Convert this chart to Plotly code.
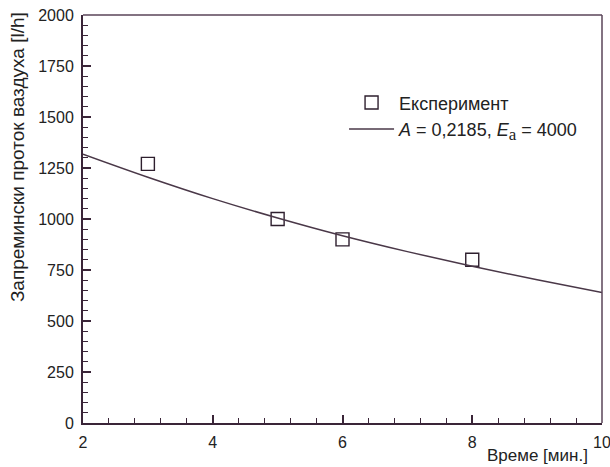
import plotly.graph_objects as go

# Experimental points
exp_time = [3, 5, 6, 8]
exp_flow = [1270, 1000, 900, 800]

# Model curve
model_time = [2, 3, 4, 5, 6, 7, 8, 9, 10]
model_flow = [1318, 1205, 1100, 1005, 918, 840, 768, 702, 640]

x_ticks = [2, 4, 6, 8, 10]
y_ticks = [0, 250, 500, 750, 1000, 1250, 1500, 1750, 2000]

FONT = "Liberation Sans, Arial, sans-serif"
AX = "#3a2538"
fs = 16

fig = go.Figure()
fig.add_trace(go.Scatter(
    x=exp_time, y=exp_flow, mode="markers", name="Експеримент",
    legendgroup="a",
    marker=dict(symbol="square-open", size=13, color="#2e1f2e", line=dict(width=1.4, color="#2e1f2e")),
))
fig.add_trace(go.Scatter(
    x=model_time, y=model_flow, mode="lines", line_shape="spline",
    name="<i>A</i> = 0,2185, <i>E</i><sub><span style=\"font-family:Liberation Serif, serif;font-size:17px\">a</span></sub> = 4000",
    legendgroup="b",
    line=dict(color="#4a3848", width=1.5),
))

fig.update_layout(
    width=610, height=467,
    margin=dict(l=83, r=8, t=15, b=44),
    paper_bgcolor="white", plot_bgcolor="white",
    font=dict(family=FONT, size=fs, color="#222"),
    showlegend=True,
    legend=dict(x=0.503, y=0.83, xanchor="left", yanchor="top",
                bgcolor="rgba(0,0,0,0)", font=dict(size=18),
                traceorder="grouped", tracegroupgap=0, itemwidth=45),
    xaxis=dict(range=[2, 10], tickvals=x_ticks, ticks="inside", ticklen=8, tickwidth=1.5,
               tickcolor=AX, showline=True, linecolor=AX, linewidth=2, showgrid=False,
               zeroline=False, minor=dict(dtick=0.4, ticks="inside", ticklen=5, tickwidth=1.2, tickcolor=AX),
               tickfont=dict(size=fs), ticklabelstandoff=4, automargin=False,
               ticklabeloverflow="allow"),
    yaxis=dict(range=[0, 2000], tickvals=y_ticks, ticks="inside", ticklen=8, tickwidth=1.5,
               tickcolor=AX, showline=True, linecolor=AX, linewidth=2, showgrid=False,
               zeroline=False, minor=dict(dtick=50, ticks="inside", ticklen=5, tickwidth=1.2, tickcolor=AX),
               tickfont=dict(size=fs), ticklabelstandoff=4, automargin=False,
               ticklabeloverflow="allow"),
)

# top and right frame lines
fig.add_shape(type="line", xref="paper", yref="paper", x0=0, x1=1, y0=1, y1=1,
              line=dict(color="#5a4458", width=1.5))
fig.add_shape(type="line", xref="paper", yref="paper", x0=1, x1=1, y0=0, y1=1,
              line=dict(color="#5a4458", width=1.5))

fig.add_annotation(text="Запремински проток ваздуха [l/h]", xref="paper", yref="paper",
                   x=-0.125, y=0.652, textangle=-90, showarrow=False,
                   xanchor="center", yanchor="middle", font=dict(size=19))
fig.add_annotation(text="Време [мин.]", xref="paper", yref="paper",
                   x=0.875, y=-0.08, showarrow=False,
                   xanchor="center", yanchor="middle", font=dict(size=17))

fig.write_html(
    "out.html",
    config={"displayModeBar": False},
    post_script="document.body.style.margin='0';document.body.style.overflow='hidden';",
)
